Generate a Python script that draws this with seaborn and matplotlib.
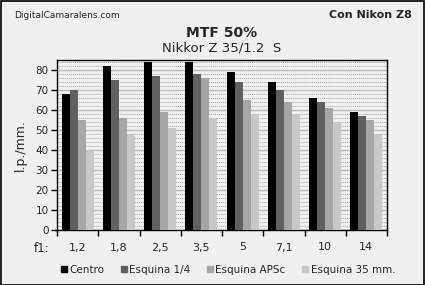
import matplotlib
matplotlib.use("Agg")
import matplotlib.pyplot as plt
from matplotlib.patches import Rectangle
from matplotlib.lines import Line2D
from matplotlib.ticker import MultipleLocator, FixedLocator
import seaborn as sns
import pandas as pd

apertures = ["1,2", "1,8", "2,5", "3,5", "5", "7,1", "10", "14"]
centro = [68, 82, 84, 84, 79, 74, 66, 59]
esquina_14 = [70, 75, 77, 78, 74, 70, 64, 57]
esquina_apsc = [55, 56, 59, 76, 65, 64, 61, 55]
esquina_35 = [40, 48, 51, 56, 58, 58, 54, 48]
series_names = ["Centro", "Esquina 1/4", "Esquina APSc", "Esquina 35 mm."]
colors = ["#000000", "#606060", "#a6a6a6", "#c8c8c8"]

rows = []
for name, vals in zip(series_names, [centro, esquina_14, esquina_apsc, esquina_35]):
    for ap, v in zip(apertures, vals):
        rows.append({"f": ap, "serie": name, "val": v})
df = pd.DataFrame(rows)

sns.set_theme(style="white")
plt.rcParams['font.family'] = ['DejaVu Sans']

bg = "#f0f0f0"
fig = plt.figure(figsize=(4.25, 2.85), dpi=100, facecolor=bg)
ax = fig.add_axes([57/425, 55/285, 330/425, 170/285])
ax.set_facecolor(bg)

sns.barplot(data=df, x="f", y="val", hue="serie", order=apertures,
            hue_order=series_names, palette=colors, width=0.78,
            saturation=1, ax=ax, legend=False, zorder=3, linewidth=0)

ax.set_ylim(0, 85)
ax.set_xlim(-0.5, len(apertures) - 0.5)
ax.yaxis.set_major_locator(MultipleLocator(10))
ax.yaxis.set_minor_locator(MultipleLocator(2))
ax.grid(which="minor", axis="y", color="#a8a8a8", linestyle=(0, (1, 1)), linewidth=0.7, zorder=0)
ax.grid(which="major", axis="y", color="#bcbcbc", linestyle="-", linewidth=1.0, zorder=1)
ax.set_axisbelow(True)

ax.xaxis.set_minor_locator(FixedLocator([i - 0.5 for i in range(len(apertures) + 1)]))
ax.tick_params(axis="x", which="major", length=0, labelsize=8, pad=9)
ax.tick_params(axis="x", which="minor", length=4, width=1, color="black", direction="out")
ax.tick_params(axis="y", which="major", length=4, width=1, color="black", direction="out", labelsize=7.5, pad=2)
ax.tick_params(axis="y", which="minor", length=0)
ax.tick_params(bottom=True, left=True, which="both")
for s in ax.spines.values():
    s.set_color("black")
    s.set_linewidth(1.0)

ax.set_xlabel("")
ax.set_ylabel("l.p./mm.", fontsize=9, labelpad=6)

fig.text(42/425, 1 - 249/285, "f1:", fontsize=8.5, ha="center", va="center")

fig.text(14/425, 1 - 15/285, "DigitalCamaralens.com", fontsize=6.5, ha="left", va="center")
fig.text(412/425, 1 - 15/285, "Con Nikon Z8", fontsize=8, fontweight="bold", ha="right", va="center")
fig.text(222/425, 1 - 33/285, "MTF 50%", fontsize=10, fontweight="bold", ha="center", va="center")
fig.text(222/425, 1 - 48/285, "Nikkor Z 35/1.2  S", fontsize=9.5, ha="center", va="center")

handles = [Line2D([0], [0], marker="s", color="none", markerfacecolor=c, markeredgecolor=c,
                  markersize=5) for c in colors]
fig.legend(handles, series_names, loc="center", bbox_to_anchor=(228/425, 1 - 270/285),
           ncol=4, frameon=False, fontsize=7.5, handlelength=0.6, handletextpad=0.2,
           columnspacing=1.6, borderaxespad=0)

fig.add_artist(Rectangle((0.5/425, 0.5/285), 1 - 1.5/425, 1 - 1.5/285, transform=fig.transFigure,
                         fill=False, edgecolor="black", linewidth=1.2))

fig.savefig("out.png", dpi=100, facecolor=bg)
